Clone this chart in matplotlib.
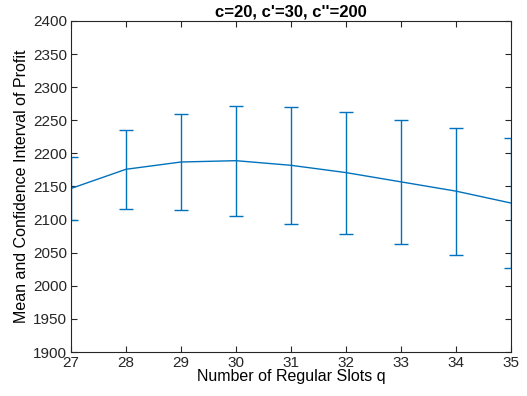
import matplotlib
matplotlib.use('Agg')
import matplotlib.pyplot as plt

# regular slots q and the mean profit with its confidence half-width
slots_q = [27, 28, 29, 30, 31, 32, 33, 34, 35]
profit_mean = [2147, 2176, 2187, 2189, 2182, 2171, 2157, 2143, 2125]
profit_ci = [47, 60, 73, 83, 88, 92, 94, 96, 98]

plt.rcParams['font.family'] = ['Liberation Sans', 'DejaVu Sans']
plt.rcParams['font.size'] = 11

fig = plt.figure(figsize=(5.27, 3.96), dpi=100)
ax = fig.add_axes([0.1347, 0.1111, 0.8349, 0.8359])

ax.errorbar(slots_q, profit_mean, yerr=profit_ci, color='#0072BD',
            linewidth=1.0, elinewidth=1.0, capsize=5, capthick=1.0)

ax.set_xlim(27, 35)
ax.set_ylim(1900, 2400)
ax.set_xticks(range(27, 36))
ax.set_yticks(range(1900, 2401, 50))

ax.set_title("c=20, c'=30, c''=200", fontsize=12, fontweight='bold', pad=3)
ax.set_xlabel('Number of Regular Slots q', fontsize=11.5, labelpad=-1)
ax.set_ylabel('Mean and Confidence Interval of Profit', fontsize=11.5, labelpad=3)

grey = '#262626'
for s in ax.spines.values():
    s.set_color(grey)
    s.set_linewidth(0.8)
ax.tick_params(direction='in', top=True, right=True, colors=grey,
               labelcolor='#262626', length=4, width=0.8, labelsize=11, pad=3)

fig.savefig('out.png', dpi=100)
plt.close(fig)
